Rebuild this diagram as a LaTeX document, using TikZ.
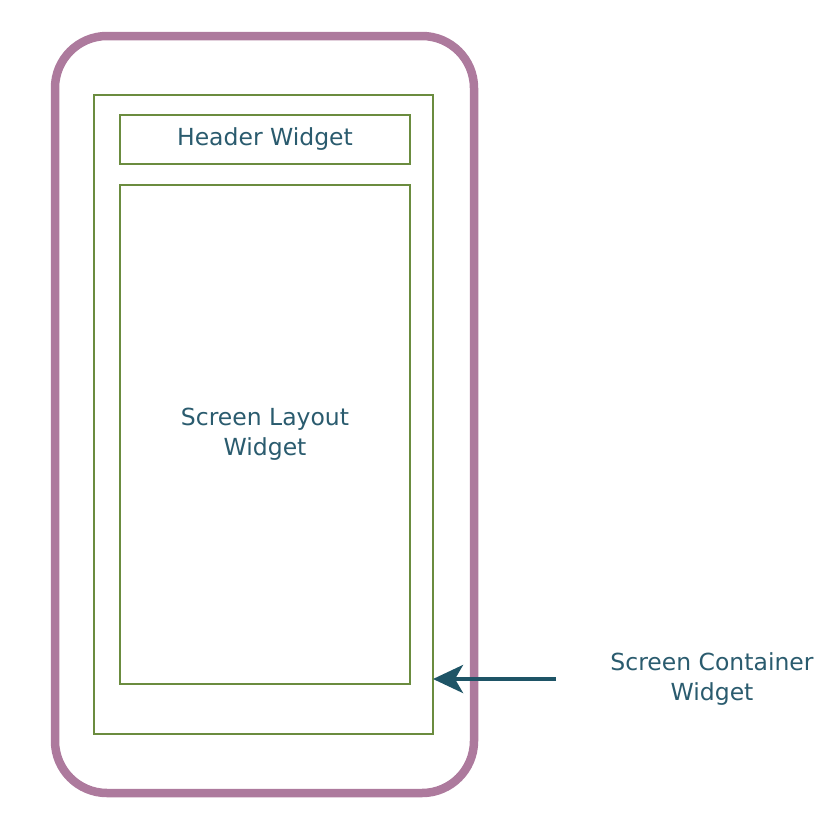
\documentclass[tikz,border=0pt]{standalone}
\usepackage{fontspec}
\setmainfont{DejaVu Sans}
\usetikzlibrary{positioning,arrows.meta}
\definecolor{phonePurple}{HTML}{AD7A9D}
\definecolor{boxGreen}{HTML}{6B8C3F}
\definecolor{textTeal}{HTML}{2A5B6E}
\definecolor{arrowTeal}{HTML}{1E5466}

\begin{document}
\begin{tikzpicture}[x=1pt, y=-1pt,
                        box/.style={rectangle, draw=boxGreen, line width=1.6, inner sep=0, outer sep=0},
                        txt/.style={text=textTeal, align=center, font=\fontsize{23.5}{30}\selectfont}]
                        \useasboundingbox (0,0) rectangle (840,828);
                        \node[rectangle, rounded corners=52, draw=phonePurple, line width=8.5, minimum width=419, minimum height=757, inner sep=0] (phone) at (264.5,414.5) {};
                        \node[box, minimum width=339, minimum height=639] (container) at (263.5,414.5) {};
                        \node[box, minimum width=290, minimum height=49] (header) at (265,139.5) {};
                        \node[box, minimum width=290, minimum height=499] (layout) at (265,434.5) {};

                        \node[txt] (headertext) at (header.center) {Header Widget};
                        \node[txt] (layouttext) at (layout.center) {Screen Layout\\Widget};
                        \node[txt] (containertext) at (712,679) {Screen Container\\Widget};

                        \coordinate (tail) at (556,679);
                        \draw[arrowTeal, line width=4, -{Stealth[length=30pt, width=28pt, inset=8pt]}] (tail) -- (tail -| container.east);
                    \end{tikzpicture}
\end{document}
